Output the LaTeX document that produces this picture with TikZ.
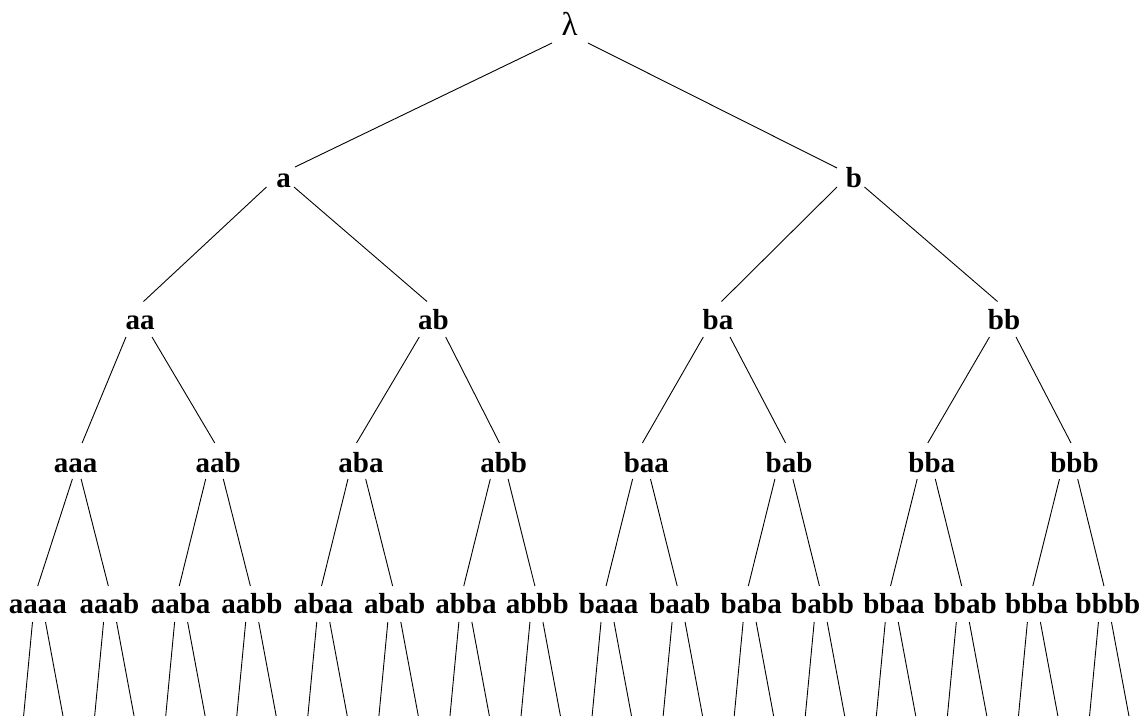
\documentclass[tikz,border=0pt]{standalone}
\usepackage{fontspec}
\setmainfont{Liberation Serif}
\begin{document}
\begin{tikzpicture}[x=1pt,y=-1pt,
  word/.style={font=\fontsize{29}{31}\selectfont\bfseries, inner sep=0pt, anchor=base},
  rootword/.style={font=\fontsize{33}{35}\selectfont, inner sep=0pt, anchor=base},
  conn/.style={line width=0.9pt, black}]
\useasboundingbox (0,0) rectangle (1144,716);

% a connector from one node to another, ends offset from the nodes' base points
\newcommand\lnk[6]{\draw[conn] ([shift={(#3,#4)}]#1.base) -- ([shift={(#5,#6)}]#2.base);}

% levels 0 to 2
\node[rootword] (r) at (569.5,35) {λ};
\node[word] (a) at (283.5,187) {a};
\node[word] (b) at (854,187) {b};
\node[word] (aa) at (140,329) {aa};
\node[word] (ab) at (433.5,329) {ab};
\node[word] (ba) at (718,329) {ba};
\node[word] (bb) at (1004,329) {bb};

% level 3
\foreach \n [count=\j from 0] in {aaa,aab,aba,abb,baa,bab,bba,bbb}
  \node[word] (\n) at ({75.6+142.7*\j},472) {\n};

% level 4
\foreach \n [count=\i from 0] in {aaaa,aaab,aaba,aabb,abaa,abab,abba,abbb,baaa,baab,baba,babb,bbaa,bbab,bbba,bbbb}
  \node[word] (\n) at ({38+71.33*\i},613) {\n};

% connectors, level 0 to 1
\lnk{r}{a}{-17.5}{8}{11.5}{-20}
\lnk{r}{b}{18.5}{8}{-17}{-19}

% level 1 to 2
\lnk{a}{aa}{-17}{0}{3.5}{-27.5}
\lnk{a}{ab}{10.5}{0}{-6.5}{-27.5}
\lnk{b}{ba}{-17}{0}{3.5}{-27.5}
\lnk{b}{bb}{10.5}{0}{-6.5}{-27.5}

% level 2 to 3
\lnk{aa}{aaa}{-14}{8}{6.5}{-29}
\lnk{aa}{aab}{12}{8}{-3.5}{-29}
\lnk{ab}{aba}{-14.2}{8}{-4.5}{-29}
\lnk{ab}{abb}{12.2}{8}{-4.2}{-29}
\lnk{ba}{baa}{-14.7}{8}{-4}{-29}
\lnk{ba}{bab}{12}{8}{-3.5}{-29}
\lnk{bb}{bba}{-14.5}{8}{-4}{-29}
\lnk{bb}{bbb}{12}{8}{-3.5}{-29}

% level 3 to 4
\lnk{aaa}{aaaa}{-3.2}{7}{-0.3}{-27}
\lnk{aaa}{aaab}{5.5}{7}{-1}{-27}
\foreach \p/\l/\r [count=\j from 1] in {aab/aaba/aabb,aba/abaa/abab,abb/abba/abbb,baa/baaa/baab,bab/baba/babb,bba/bbaa/bbab,bbb/bbba/bbbb}{
  \pgfmathsetmacro\sl{-12.2-0.4*\j}
  \pgfmathsetmacro\sr{5.3-0.3*\j}
  \pgfmathsetmacro\el{-1-0.4*\j}
  \pgfmathsetmacro\er{-1.2-0.4*\j}
  \lnk{\p}{\l}{\sl}{7}{\el}{-27}
  \lnk{\p}{\r}{\sr}{7}{\er}{-27}
}

% level 4 branches running off the bottom edge
\foreach \n [count=\i from 0] in {aaaa,aaab,aaba,aabb,abaa,abab,abba,abbb,baaa,baab,baba,babb,bbaa,bbab,bbba,bbbb}{
  \pgfmathsetmacro\c{1-0.267*\i}
  \pgfmathsetmacro\xl{38+71.33*\i+\c+4.3-19.7}
  \pgfmathsetmacro\xr{38+71.33*\i+\c+4.3+19.7}
  \coordinate (\n-l) at (\xl,716);
  \coordinate (\n-r) at (\xr,716);
  \draw[conn] ([shift={(\c-6.5,9)}]\n.base) -- (\n-l);
  \draw[conn] ([shift={(\c+6.5,9)}]\n.base) -- (\n-r);
}
\end{tikzpicture}
\end{document}
